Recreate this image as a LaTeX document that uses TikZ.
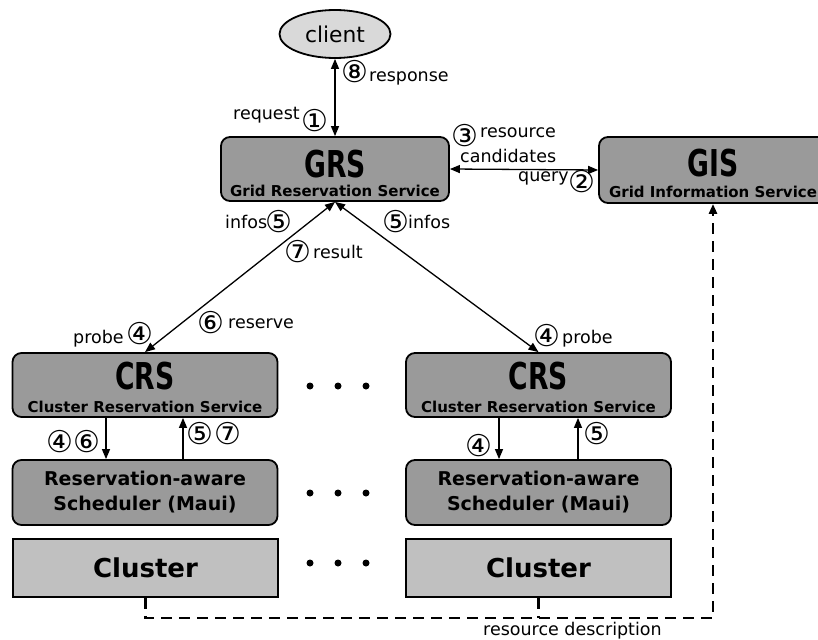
\documentclass[tikz,border=0pt]{standalone}
\usepackage{fontspec}
\setmainfont{DejaVu Sans}
\usetikzlibrary{arrows.meta,shapes.geometric}
\definecolor{boxgray}{HTML}{9A9A9A}
\definecolor{clustergray}{HTML}{C0C0C0}
\definecolor{clientgray}{HTML}{D9D9D9}
\newcommand{\mytitle}[1]{\scalebox{0.72}[1]{#1}}
\tikzset{
  >={Triangle[length=10pt,width=8pt]},
  box/.style={draw=black, line width=1.8pt, fill=boxgray, rounded corners=9pt, rectangle, inner sep=0pt},
  clusterbox/.style={draw=black, line width=1.8pt, fill=clustergray, rectangle, inner sep=0pt,
    minimum width=265pt, minimum height=58pt, font=\fontsize{26}{26}\selectfont\bfseries},
  schedbox/.style={box, minimum width=265pt, minimum height=65pt, align=center,
    font=\fontsize{19}{25}\selectfont\bfseries},
  crsbox/.style={box, minimum width=265pt, minimum height=64pt},
  title/.style={anchor=base, inner sep=0pt, font=\fontsize{37}{37}\selectfont\bfseries},
  sub/.style={anchor=base, inner sep=0pt, font=\fontsize{15}{15}\selectfont\bfseries},
  lbl/.style={anchor=base west, inner sep=0pt, font=\fontsize{17.5}{17.5}\selectfont},
  num/.style={inner sep=0pt, font=\fontsize{30}{30}\selectfont},
  conn/.style={line width=1.3pt},
  dline/.style={line width=2.5pt, dash pattern=on 11pt off 7pt},
  dot/.style={circle, fill=black, inner sep=0pt, minimum size=7pt}
}
\begin{document}
\begin{tikzpicture}[x=1pt,y=-1pt]
\useasboundingbox (0,0) rectangle (818,639);
\clip (0,0) rectangle (818,639);
% client
\node[ellipse, draw=black, line width=1.8pt, fill=clientgray, minimum width=111pt, minimum height=48pt,
  inner sep=0pt, font=\fontsize{21.8}{21.8}\selectfont] (client) at (335,34) {client};
% GRS
\node[box, minimum width=228pt, minimum height=64pt] (grs) at (335,169) {};
\node[title] (grsT) at (335,177) {\mytitle{GRS}};
\node[sub] (grsS) at (335,196) {Grid Reservation Service};
% GIS
\node[box, minimum width=228pt, minimum height=66pt] (gis) at (713,170) {};
\node[title] (gisT) at (713,176) {\mytitle{GIS}};
\node[sub] (gisS) at (713,197) {Grid Information Service};
% CRS
\node[crsbox] (crsL) at (145,385) {};
\node[title] (crsLT) at (145,389) {\mytitle{CRS}};
\node[sub] (crsLS) at (145,412) {Cluster Reservation Service};
\node[crsbox] (crsR) at (538.5,385) {};
\node[title] (crsRT) at (538.5,389) {\mytitle{CRS}};
\node[sub] (crsRS) at (538.5,412) {Cluster Reservation Service};
% Schedulers
\node[schedbox] (schL) at (145,492.5) {Reservation-aware\\Scheduler (Maui)};
\node[schedbox] (schR) at (538.5,492.5) {Reservation-aware\\Scheduler (Maui)};
% Clusters
\node[clusterbox] (clL) at (145.5,568) {Cluster};
\node[clusterbox] (clR) at (538.5,568) {Cluster};
% dots
\foreach \yy/\nm in {386/a,493/b,563/c}{
  \node[dot] (d1\nm) at (310,\yy) {};
  \node[dot] (d2\nm) at (338,\yy) {};
  \node[dot] (d3\nm) at (366,\yy) {};
}
% connectors
\draw[conn,<->] (client.south) -- (grs.north);
\draw[conn,<->] (grs.east) -- (gis.west);
\draw[conn,<->] (grs.south) -- (crsL.north);
\draw[conn,<->] (grs.south) -- (crsR.north);
\draw[conn,->] ([xshift=-39pt]crsL.south) -- ([xshift=-39pt]schL.north);
\draw[conn,<-] ([xshift=38pt]crsL.south) -- ([xshift=38pt]schL.north);
\draw[conn,->] ([xshift=-39.5pt]crsR.south) -- ([xshift=-39.5pt]schR.north);
\draw[conn,<-] ([xshift=39.5pt]crsR.south) -- ([xshift=39.5pt]schR.north);
% dashed resource description
\coordinate (dc) at (713,618);
\draw[dline,->] (clL.south) |- (dc) -- (gis.south);
\draw[dline] (clR.south) -- (clR.south |- dc);
% labels
\node[lbl] (lreq) at (233,120) {request};
\node[num] (n1) at (315,121) {①};
\node[num] (n8) at (355,72) {⑧};
\node[lbl] (lresp) at (369,82) {response};
\node[num] (n3) at (465,136) {③};
\node[lbl] (lres) at (480,138) {resource};
\node[lbl] (lcand) at (460,162) {candidates};
\node[lbl] (lquery) at (518,182) {query};
\node[num] (n2) at (582,182) {②};
\node[lbl] (linfL) at (225,228) {infos};
\node[num] (n5a) at (279,222) {⑤};
\node[num] (n5b) at (396,222) {⑤};
\node[lbl] (linfR) at (408,228) {infos};
\node[num] (n7a) at (298,252) {⑦};
\node[lbl] (lresult) at (313,258) {result};
\node[lbl] (lprobeL) at (73,343) {probe};
\node[num] (n4a) at (140,334) {④};
\node[num] (n6a) at (211,323) {⑥};
\node[lbl] (lreserve) at (228,328) {reserve};
\node[num] (n4b) at (547,336) {④};
\node[lbl] (lprobeR) at (562,343) {probe};
\node[num] (n4c) at (60,442) {④};
\node[num] (n6b) at (87,442) {⑥};
\node[num] (n5c) at (200,434) {⑤};
\node[num] (n7b) at (228,434) {⑦};
\node[num] (n4d) at (479,446) {④};
\node[num] (n5d) at (597,434) {⑤};
\node[lbl] (ldesc) at (483,635) {resource description};
\end{tikzpicture}
\end{document}
